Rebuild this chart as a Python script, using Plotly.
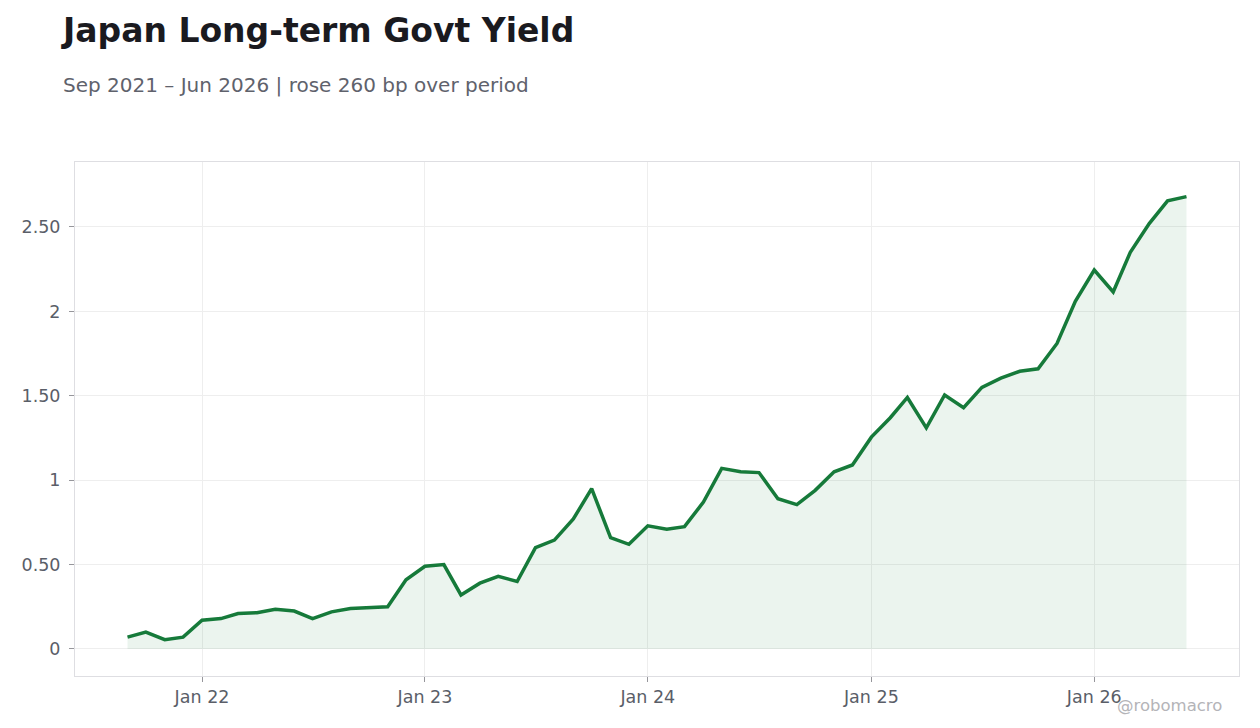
import plotly.graph_objects as go

LINE_COLOUR = 'rgb(22, 122, 58)'
FILL_COLOUR = 'rgba(22, 122, 58, 0.085)'
GRID_COLOUR = 'rgb(238, 238, 238)'
TEXT_GREY = 'rgb(90, 94, 104)'

months = [
    '2021-09-01', '2021-10-01', '2021-11-01', '2021-12-01',
    '2022-01-01', '2022-02-01', '2022-03-01', '2022-04-01', '2022-05-01', '2022-06-01',
    '2022-07-01', '2022-08-01', '2022-09-01', '2022-10-01', '2022-11-01', '2022-12-01',
    '2023-01-01', '2023-02-01', '2023-03-01', '2023-04-01', '2023-05-01', '2023-06-01',
    '2023-07-01', '2023-08-01', '2023-09-01', '2023-10-01', '2023-11-01', '2023-12-01',
    '2024-01-01', '2024-02-01', '2024-03-01', '2024-04-01', '2024-05-01', '2024-06-01',
    '2024-07-01', '2024-08-01', '2024-09-01', '2024-10-01', '2024-11-01', '2024-12-01',
    '2025-01-01', '2025-02-01', '2025-03-01', '2025-04-01', '2025-05-01', '2025-06-01',
    '2025-07-01', '2025-08-01', '2025-09-01', '2025-10-01', '2025-11-01', '2025-12-01',
    '2026-01-01', '2026-02-01', '2026-03-01', '2026-04-01', '2026-05-01', '2026-06-01',
]

yields = [
    0.07, 0.10, 0.055, 0.07,
    0.17, 0.18, 0.21, 0.215, 0.235, 0.225,
    0.18, 0.22, 0.24, 0.245, 0.25, 0.41,
    0.49, 0.50, 0.32, 0.39, 0.43, 0.40,
    0.60, 0.645, 0.77, 0.95, 0.66, 0.62,
    0.73, 0.71, 0.725, 0.87, 1.07, 1.05,
    1.045, 0.89, 0.855, 0.94, 1.05, 1.09,
    1.255, 1.37, 1.49, 1.31, 1.505, 1.43,
    1.55, 1.605, 1.645, 1.66, 1.81, 2.06,
    2.245, 2.115, 2.35, 2.52, 2.655, 2.68,
]

y_tick_vals = [0, 0.5, 1, 1.5, 2, 2.5]
y_tick_text = ['0', '0.50', '1', '1.50', '2', '2.50']

fig = go.Figure()
fig.add_trace(go.Scatter(
    x=months,
    y=yields,
    mode='lines',
    fill='tozeroy',
    fillcolor=FILL_COLOUR,
    line=dict(color=LINE_COLOUR, width=3.5),
    hovertemplate='%{x|%b %Y}: %{y:.2f}%<extra></extra>',
))

fig.update_layout(
    width=1260,
    height=728,
    paper_bgcolor='white',
    plot_bgcolor='white',
    showlegend=False,
    font=dict(family='DejaVu Sans', color=TEXT_GREY, size=17),
    margin=dict(l=67, r=29, t=154, b=60),
    title=dict(
        text='<b>Japan Long-term Govt Yield</b>',
        x=55 / 1260, xanchor='left',
        y=1 - 22 / 728, yanchor='middle',
        font=dict(size=33, color='rgb(26, 26, 31)'),
    ),
    annotations=[
        dict(text='Sep 2021 – Jun 2026 | rose 260 bp over period',
             xref='paper', yref='paper', x=-14 / 1164, y=(676 - 85) / 514,
             xanchor='left', yanchor='middle', showarrow=False,
             font=dict(size=20, color='rgb(95, 98, 108)')),
        dict(text='@robomacro',
             xref='paper', yref='paper', x=(1224 - 75) / 1164, y=(676 - 705) / 514,
             xanchor='right', yanchor='middle', showarrow=False,
             font=dict(size=16.5, color='rgb(180, 180, 184)')),
    ],
)

fig.update_xaxes(
    range=['2021-06-07', '2026-08-26'],
    tickformat='%b %y',
    dtick='M12',
    tick0='2022-01-01',
    showgrid=True, gridcolor=GRID_COLOUR,
    zeroline=False,
    showline=True, linecolor='rgb(222, 222, 226)', mirror=True,
    ticks='outside', ticklen=5, tickcolor='rgb(150, 150, 155)',
    tickfont=dict(size=17.5, color=TEXT_GREY),
)
fig.update_yaxes(
    range=[-0.16, 2.885],
    tickvals=y_tick_vals,
    ticktext=y_tick_text,
    showgrid=True, gridcolor=GRID_COLOUR,
    zeroline=False,
    showline=True, linecolor='rgb(222, 222, 226)', mirror=True,
    ticks='outside', ticklen=5, tickcolor='rgb(150, 150, 155)',
    ticklabelstandoff=5,
    tickfont=dict(size=17.5, color=TEXT_GREY),
)

fig.write_html('out.html')
